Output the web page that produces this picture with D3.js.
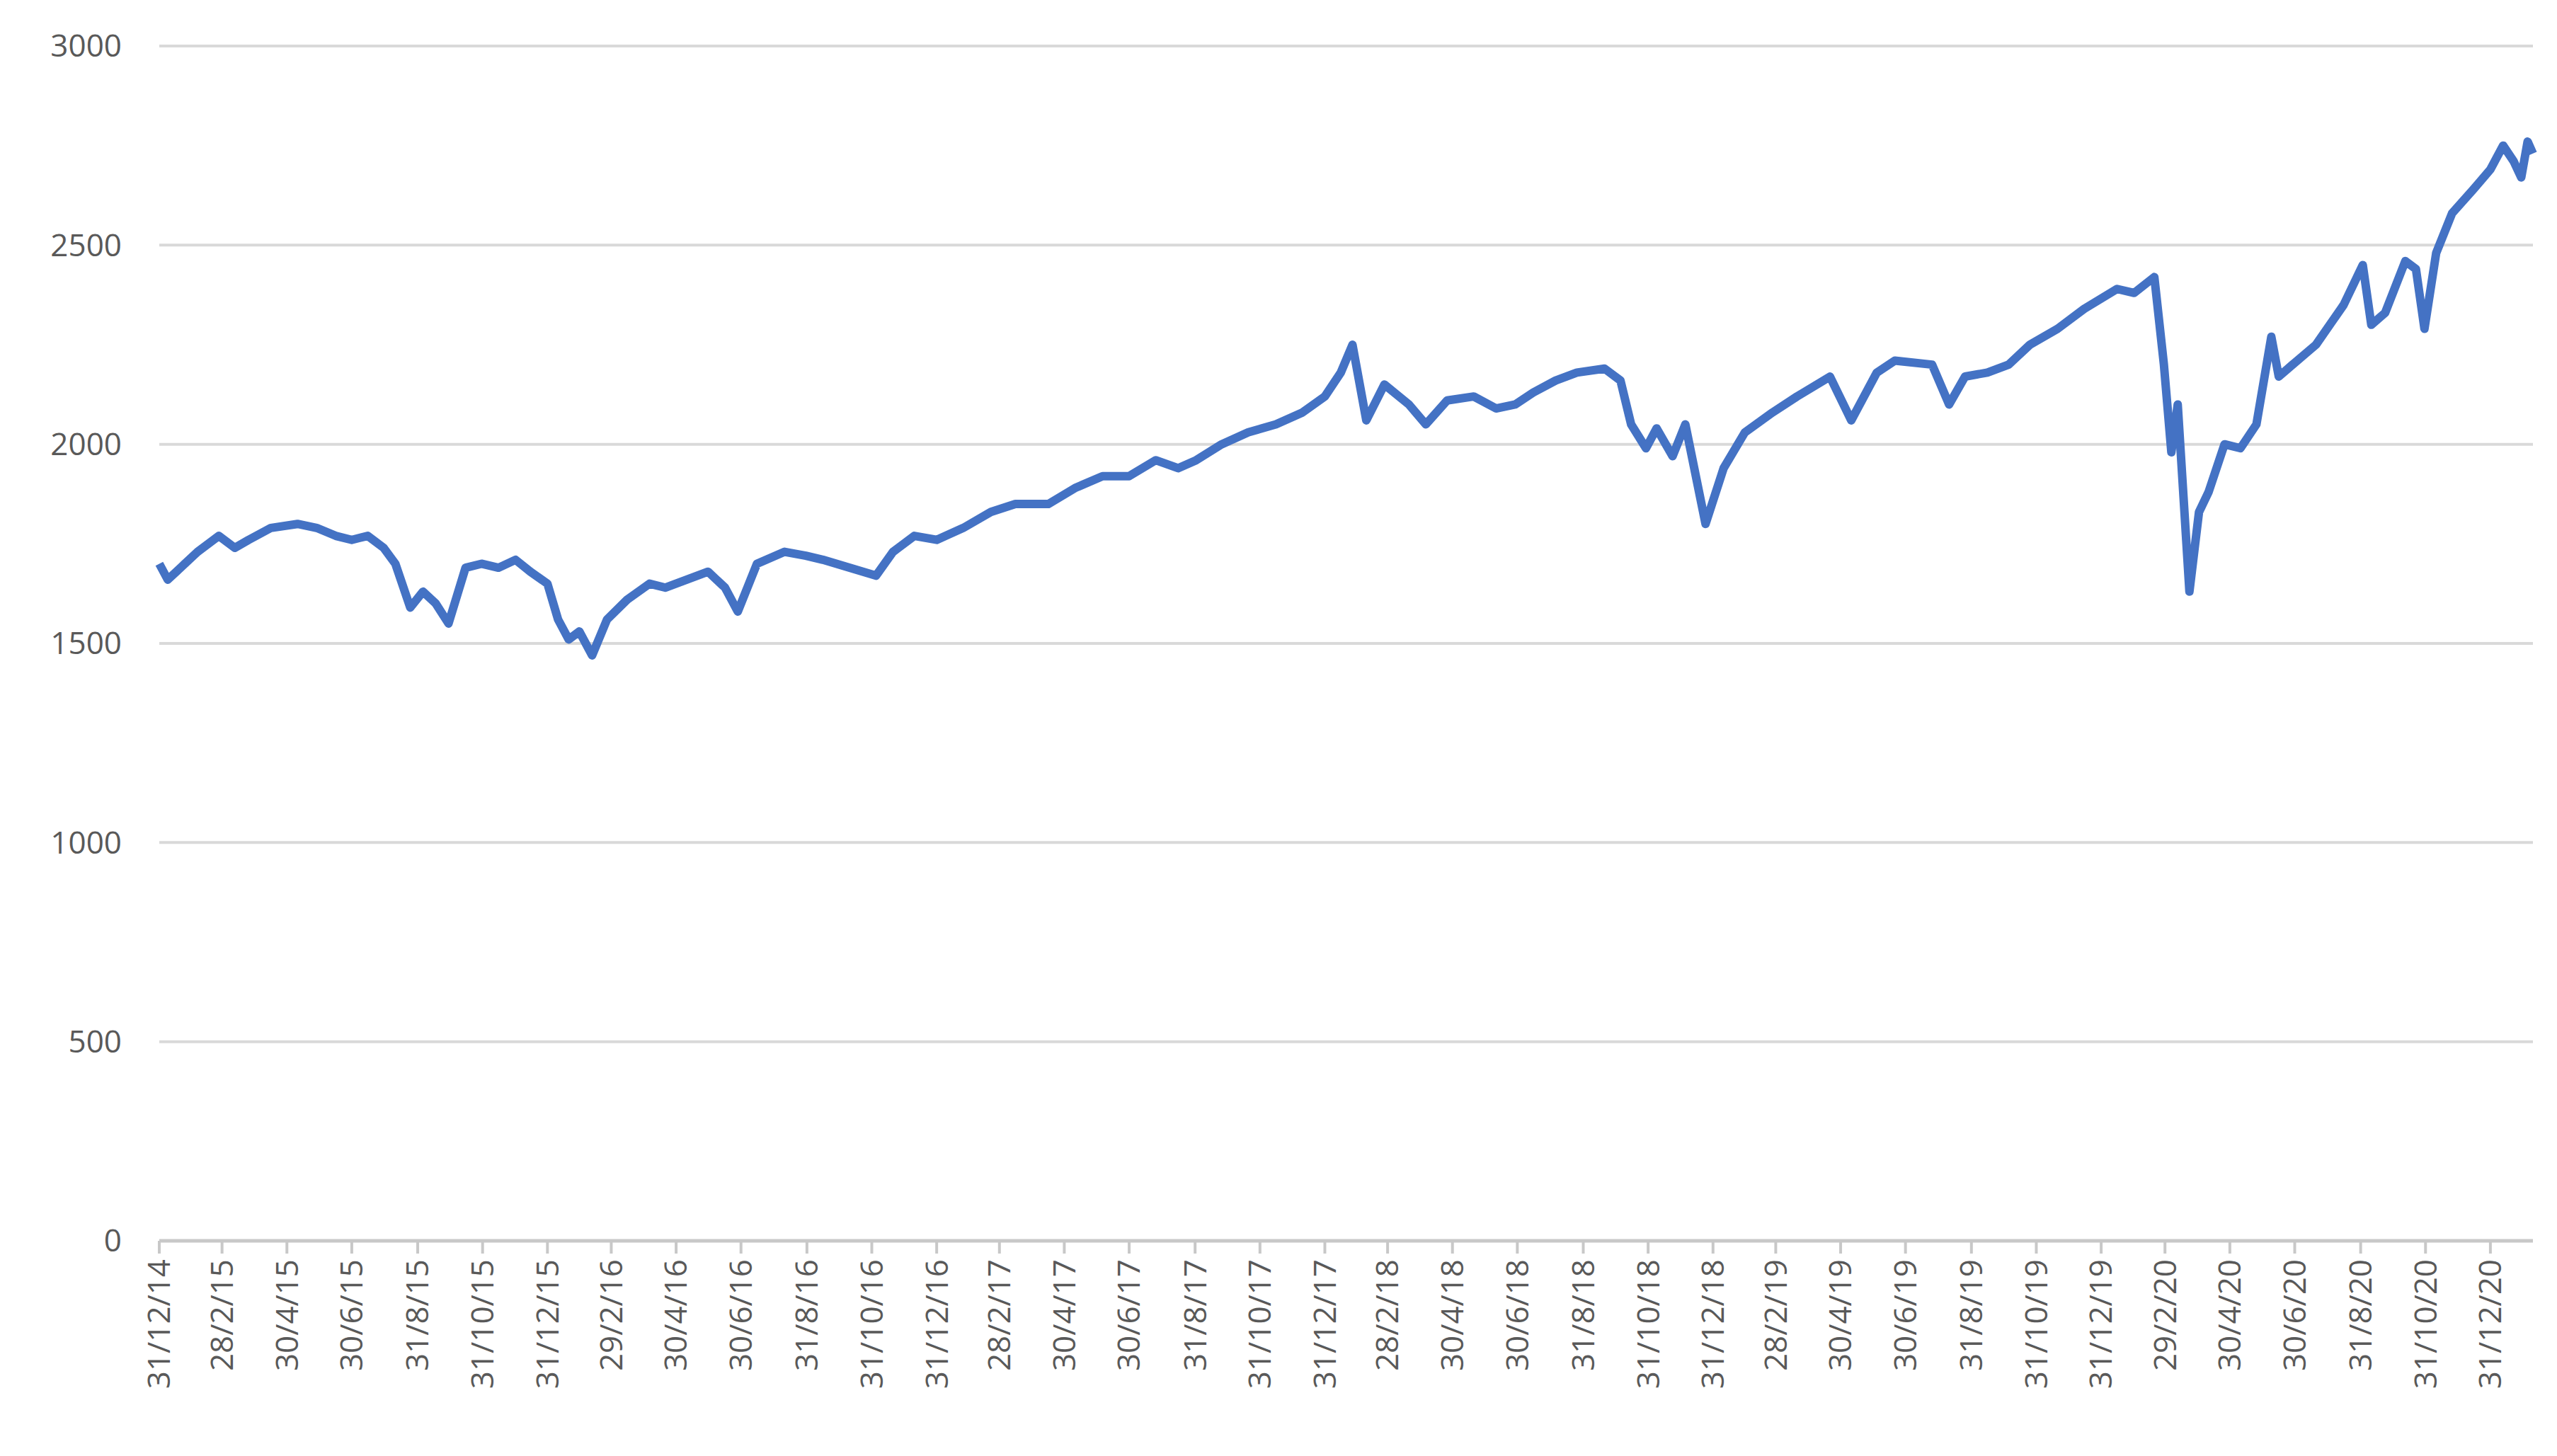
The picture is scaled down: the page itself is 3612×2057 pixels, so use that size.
<!DOCTYPE html>
<html><head><meta charset="utf-8">
<script src="https://cdn.jsdelivr.net/npm/d3@7"></script>
<style>body{margin:0;background:#fff}svg{display:block}</style>
</head><body>
<script>
const dates = ["2014-12-31","2015-01-08","2015-01-20","2015-02-05","2015-02-25","2015-03-12","2015-03-25","2015-04-15","2015-05-10","2015-05-28","2015-06-15","2015-06-30","2015-07-15","2015-07-30","2015-08-10","2015-08-24","2015-09-05","2015-09-17","2015-09-29","2015-10-15","2015-10-30","2015-11-15","2015-12-01","2015-12-15","2015-12-31","2016-01-10","2016-01-20","2016-01-30","2016-02-11","2016-02-25","2016-03-15","2016-04-05","2016-04-20","2016-05-10","2016-05-30","2016-06-15","2016-06-27","2016-07-15","2016-08-10","2016-08-30","2016-09-15","2016-10-10","2016-11-04","2016-11-20","2016-12-10","2016-12-31","2017-01-25","2017-02-20","2017-03-15","2017-04-15","2017-05-10","2017-06-05","2017-06-30","2017-07-25","2017-08-15","2017-09-01","2017-09-25","2017-10-20","2017-11-15","2017-12-10","2017-12-31","2018-01-15","2018-01-26","2018-02-08","2018-02-25","2018-03-20","2018-04-05","2018-04-25","2018-05-20","2018-06-10","2018-06-28","2018-07-15","2018-08-05","2018-08-25","2018-09-20","2018-10-05","2018-10-15","2018-10-29","2018-11-08","2018-11-23","2018-12-05","2018-12-24","2019-01-10","2019-01-30","2019-02-25","2019-03-20","2019-04-20","2019-05-10","2019-06-03","2019-06-20","2019-07-25","2019-08-10","2019-08-25","2019-09-15","2019-10-05","2019-10-25","2019-11-20","2019-12-15","2020-01-15","2020-01-31","2020-02-19","2020-02-28","2020-03-06","2020-03-12","2020-03-23","2020-04-01","2020-04-10","2020-04-25","2020-05-10","2020-05-25","2020-06-08","2020-06-15","2020-06-28","2020-07-20","2020-08-15","2020-09-02","2020-09-10","2020-09-23","2020-10-12","2020-10-22","2020-10-30","2020-11-10","2020-11-25","2020-12-15","2020-12-31","2021-01-12","2021-01-22","2021-01-29","2021-02-04","2021-02-09"];
const values = [1700,1660,1690,1730,1770,1740,1760,1790,1800,1790,1770,1760,1770,1740,1700,1590,1630,1600,1550,1690,1700,1690,1710,1680,1650,1560,1510,1530,1470,1560,1610,1650,1640,1660,1680,1640,1580,1700,1730,1720,1710,1690,1670,1730,1770,1760,1790,1830,1850,1850,1890,1920,1920,1960,1940,1960,2000,2030,2050,2080,2120,2180,2250,2060,2150,2100,2050,2110,2120,2090,2100,2130,2160,2180,2190,2160,2050,1990,2040,1970,2050,1800,1940,2030,2080,2120,2170,2060,2180,2210,2200,2100,2170,2180,2200,2250,2290,2340,2390,2380,2420,2200,1980,2100,1630,1830,1880,2000,1990,2050,2270,2170,2200,2250,2350,2450,2300,2330,2460,2440,2290,2480,2580,2640,2690,2750,2710,2670,2760,2730];
const yTicks = [0,500,1000,1500,2000,2500,3000];
const xTickDates = ["2014-12-31","2015-02-28","2015-04-30","2015-06-30","2015-08-31","2015-10-31","2015-12-31","2016-02-29","2016-04-30","2016-06-30","2016-08-31","2016-10-31","2016-12-31","2017-02-28","2017-04-30","2017-06-30","2017-08-31","2017-10-31","2017-12-31","2018-02-28","2018-04-30","2018-06-30","2018-08-31","2018-10-31","2018-12-31","2019-02-28","2019-04-30","2019-06-30","2019-08-31","2019-10-31","2019-12-31","2020-02-29","2020-04-30","2020-06-30","2020-08-31","2020-10-31","2020-12-31"];

const W=3612,H=2057, L=225, R=3578, T=65, B=1753;
const parse=d3.utcParse("%Y-%m-%d");
const data=dates.map((d,i)=>({d:parse(d),v:values[i]}));
const x=d3.scaleUtc().domain([parse("2014-12-31"),parse("2021-02-09")]).range([L,R]);
const y=d3.scaleLinear().domain([0,3000]).range([B,T]);
const svg=d3.select("body").append("svg").attr("width",W).attr("height",H);
const font="'Open Sans', 'Noto Sans', sans-serif";
svg.append("g").selectAll("line").data(yTicks).join("line")
 .attr("x1",L).attr("x2",R).attr("y1",d=>y(d)).attr("y2",d=>y(d))
 .attr("stroke",d=>d===0?"#c8c8c8":"#d9d9d9").attr("stroke-width",d=>d===0?5:4);
svg.append("g").selectAll("text").data(yTicks).join("text")
 .attr("x",172).attr("y",d=>y(d)).attr("dy","0.35em").attr("text-anchor","end")
 .attr("font-family",font).attr("font-size",44).attr("fill","#595959").text(d=>d);
const fmt=d3.utcFormat("%-d/%-m/%y");
const xt=xTickDates.map(parse);
svg.append("g").selectAll("line").data(xt).join("line")
 .attr("x1",d=>x(d)).attr("x2",d=>x(d)).attr("y1",B).attr("y2",B+18)
 .attr("stroke","#c8c8c8").attr("stroke-width",4);
svg.append("g").selectAll("text").data(xt).join("text")
 .attr("transform",d=>`translate(${x(d)},${B+26}) rotate(-90)`)
 .attr("dy","0.35em").attr("text-anchor","end")
 .attr("font-family",font).attr("font-size",44).attr("fill","#595959").text(d=>fmt(d));
svg.append("path").datum(data)
 .attr("d",d3.line().x(d=>x(d.d)).y(d=>y(d.v)))
 .attr("fill","none").attr("stroke","#4472C4").attr("stroke-width",12).attr("stroke-linejoin","round");
</script>
</body></html>
